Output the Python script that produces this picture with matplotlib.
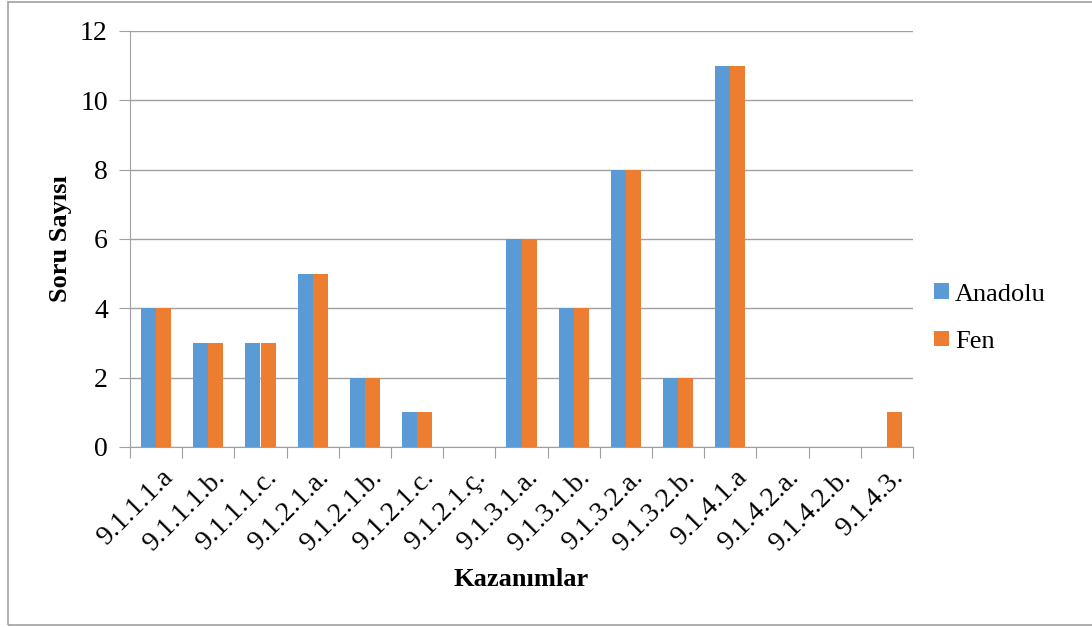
import numpy as np
import matplotlib.pyplot as plt
from matplotlib.patches import Rectangle

categories = ['9.1.1.1.a', '9.1.1.1.b.', '9.1.1.1.c.', '9.1.2.1.a.', '9.1.2.1.b.',
              '9.1.2.1.c.', '9.1.2.1.ç.', '9.1.3.1.a.', '9.1.3.1.b.', '9.1.3.2.a.',
              '9.1.3.2.b.', '9.1.4.1.a', '9.1.4.2.a.', '9.1.4.2.b.', '9.1.4.3.']
anadolu = [4, 3, 3, 5, 2, 1, 0, 6, 4, 8, 2, 11, 0, 0, 0]
fen = [4, 3, 3, 5, 2, 1, 0, 6, 4, 8, 2, 11, 0, 0, 1]
y_ticks = [0, 2, 4, 6, 8, 10, 12]

plt.rcParams['font.family'] = ['Liberation Serif', 'DejaVu Serif']

W, H = 1092, 627
fig = plt.figure(figsize=(W / 100, H / 100), dpi=100)
ax = fig.add_axes([130 / W, 1 - 447 / H, (913 - 130) / W, (447 - 31) / H])

# outer frame like the original document box
fig.patches.append(Rectangle((8 / W, 2 / H), 1.2, 623 / H, transform=fig.transFigure,
                             fill=False, edgecolor='#a0a0a0', linewidth=1.2))

x = np.arange(len(categories))
bw = 0.29
ax.bar(x - bw / 2, anadolu, bw, color='#5B9BD5', label='Anadolu', zorder=3)
ax.bar(x + bw / 2, fen, bw, color='#ED7D31', label='Fen', zorder=3)

ax.set_xlim(-0.5, len(categories) - 0.5)
ax.set_ylim(0, 12)
ax.set_yticks(y_ticks)
ax.tick_params(axis='y', labelsize=20, length=8, color='#a0a0a0', pad=8)
ax.set_xticks(np.arange(len(categories) + 1) - 0.5, minor=False)
ax.set_xticklabels([])
ax.set_xticks(x + 0.08, minor=True)
ax.set_xticklabels(categories, minor=True, rotation=45, ha='right', va='top',
                   fontsize=20, rotation_mode='anchor')
ax.tick_params(axis='x', which='major', length=8, color='#a0a0a0')
ax.tick_params(axis='x', which='minor', length=0, pad=13)

ax.grid(axis='y', color='#a0a0a0', linewidth=1, zorder=0)
for side in ['top', 'right']:
    ax.spines[side].set_visible(False)
for side in ['left', 'bottom']:
    ax.spines[side].set_color('#a0a0a0')

ax.set_ylabel('Soru Sayısı', fontsize=19, fontweight='bold')
ax.yaxis.set_label_coords(-0.074, 0.5)
ax.set_xlabel('Kazanımlar', fontsize=19, fontweight='bold')
ax.xaxis.set_label_coords(0.5, -0.29)

ax.legend(loc='center left', bbox_to_anchor=(1.0, 0.31), frameon=False, fontsize=19,
          handlelength=0.55, handleheight=0.55, handletextpad=0.25, labelspacing=0.95,
          borderaxespad=0.4)

fig.savefig('out.png', dpi=100)
